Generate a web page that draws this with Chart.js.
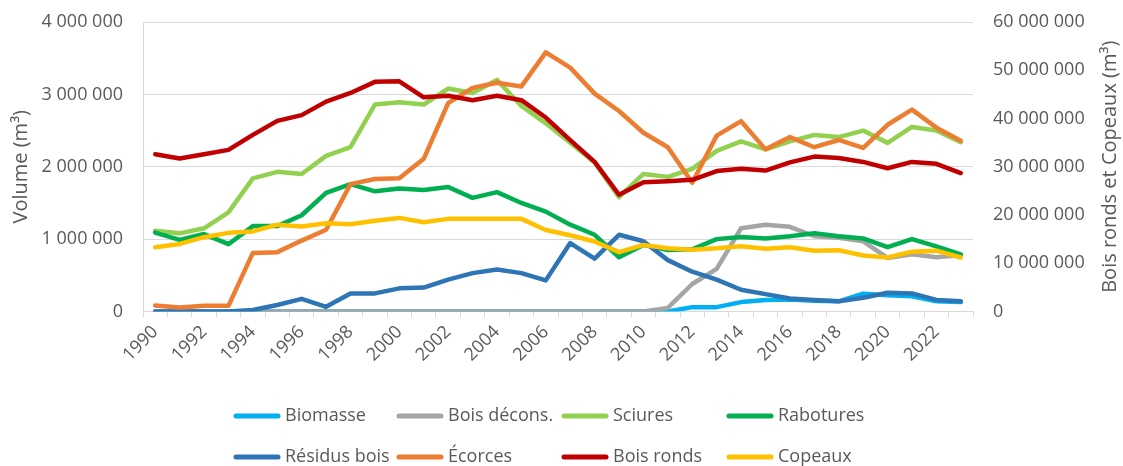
<!DOCTYPE html>
<html>
<head>
<meta charset="utf-8">
<script src="https://cdn.jsdelivr.net/npm/chart.js@4/dist/chart.umd.min.js"></script>
<style>
  body { margin: 0; background: #fff; }
</style>
</head>
<body>
<canvas id="myChart" width="1123" height="466"></canvas>
<script>
// categories
const years = ['1990','1991','1992','1993','1994','1995','1996','1997','1998','1999',
  '2000','2001','2002','2003','2004','2005','2006','2007','2008','2009',
  '2010','2011','2012','2013','2014','2015','2016','2017','2018','2019',
  '2020','2021','2022','2023'];

// left axis series (m3)
const biomasse = [0,0,0,0,0,0,0,0,0,0,
  0,0,0,0,0,0,0,0,0,0,
  0,0,60000,60000,130000,160000,165000,150000,140000,245000,
  225000,210000,140000,130000];
const boisDecons = [0,0,0,0,0,0,0,0,0,0,
  0,0,0,0,0,0,0,0,0,0,
  0,50000,380000,590000,1150000,1200000,1170000,1040000,1020000,970000,
  740000,790000,750000,780000];
const sciures = [1116000,1080000,1150000,1370000,1840000,1930000,1900000,2150000,2270000,2860000,
  2890000,2860000,3080000,3020000,3200000,2840000,2600000,2330000,2060000,1580000,
  1900000,1860000,1970000,2220000,2350000,2240000,2350000,2440000,2410000,2500000,
  2330000,2550000,2500000,2340000];
const rabotures = [1090000,990000,1070000,930000,1180000,1180000,1330000,1640000,1760000,1660000,
  1700000,1680000,1720000,1570000,1650000,1500000,1380000,1200000,1060000,750000,
  920000,850000,860000,1000000,1030000,1010000,1040000,1080000,1040000,1010000,
  890000,1000000,900000,790000];
const residusBois = [0,0,0,0,20000,90000,175000,65000,250000,250000,
  320000,330000,440000,530000,580000,530000,430000,945000,730000,1060000,
  970000,710000,550000,440000,300000,240000,180000,160000,140000,190000,
  260000,250000,160000,140000];
const ecorces = [83000,55000,78000,78000,810000,820000,980000,1130000,1760000,1830000,
  1840000,2110000,2880000,3090000,3160000,3110000,3580000,3370000,3010000,2770000,
  2470000,2270000,1780000,2430000,2630000,2240000,2410000,2270000,2370000,2260000,
  2580000,2790000,2540000,2360000];

// right axis series (m3)
const boisRonds = [32600000,31700000,32600000,33500000,36600000,39500000,40700000,43500000,45300000,47600000,
  47700000,44400000,44700000,43800000,44700000,43800000,40200000,35500000,31000000,24200000,
  26800000,27000000,27300000,29100000,29600000,29200000,30900000,32100000,31800000,31000000,
  29700000,31000000,30600000,28700000];
const copeaux = [13300000,14000000,15400000,16300000,16600000,18000000,17600000,18300000,18100000,18800000,
  19400000,18500000,19200000,19200000,19200000,19200000,16900000,15800000,14500000,12300000,
  13800000,13100000,12800000,13100000,13500000,13000000,13300000,12600000,12700000,11600000,
  11200000,12400000,12600000,11200000];

// ticks
const leftTicks = [0, 1000000, 2000000, 3000000, 4000000];
const rightTicks = [0, 10000000, 20000000, 30000000, 40000000, 50000000, 60000000];

const FONT = '"Open Sans", "Noto Sans", sans-serif';
const GREY = '#595959';
const GRID = '#d9d9d9';

function spaced(v) {
  return String(v).replace(/\B(?=(\d{3})+(?!\d))/g, ' ');
}

function line(label, data, color, axis, order) {
  return {
    label: label,
    data: data,
    yAxisID: axis,
    borderColor: color,
    backgroundColor: color,
    borderWidth: 4.5,
    pointRadius: 0,
    tension: 0,
    borderJoinStyle: 'round',
    borderCapStyle: 'round',
    fill: false,
    order: order
  };
}

// legend laid out as a 4 x 2 grid, and the right title read bottom-up, like the original
const extras = {
  id: 'extras',
  afterDraw(chart, args, opts) {
    const c = chart.ctx;
    const area = chart.chartArea;
    c.save();
    c.font = '18px ' + FONT;
    c.textBaseline = 'middle';
    chart.data.datasets.forEach((ds, i) => {
      const x = opts.cols[i % 4];
      const y = opts.rows[Math.floor(i / 4)];
      c.strokeStyle = ds.borderColor;
      c.lineWidth = 5;
      c.lineCap = 'round';
      c.beginPath();
      c.moveTo(x + 2, y);
      c.lineTo(x + 44, y);
      c.stroke();
      c.fillStyle = GREY;
      c.textAlign = 'left';
      c.fillText(ds.label, x + 51, y);
    });
    c.translate(opts.rightTitleX, (area.top + area.bottom) / 2);
    c.rotate(-Math.PI / 2);
    c.font = '20px ' + FONT;
    c.textAlign = 'center';
    c.fillStyle = GREY;
    c.fillText(opts.rightTitle, 0, 0);
    c.restore();
  }
};

// keep the tick padding from pushing the plot top down
function fitY(width) {
  return function(s) {
    s.width = width;
    s.paddingTop = 0;
    s.paddingBottom = 0;
  };
}

const ctx = document.getElementById('myChart').getContext('2d');
const myChart = new Chart(ctx, {
  type: 'line',
  data: {
    labels: years,
    datasets: [
      line('Biomasse', biomasse, '#00B0F0', 'y', 8),
      line('Bois décons.', boisDecons, '#A5A5A5', 'y', 7),
      line('Sciures', sciures, '#92D050', 'y', 6),
      line('Rabotures', rabotures, '#00B050', 'y', 5),
      line('Résidus bois', residusBois, '#2E75B6', 'y', 4),
      line('Écorces', ecorces, '#ED7D31', 'y', 3),
      line('Bois ronds', boisRonds, '#C00000', 'y2', 2),
      line('Copeaux', copeaux, '#FFC000', 'y2', 1)
    ]
  },
  options: {
    responsive: false,
    animation: false,
    layout: { padding: { top: 22, left: 0, right: 0, bottom: 0 } },
    scales: {
      x: {
        offset: true,
        grid: {
          offset: true,
          drawOnChartArea: false,
          drawTicks: true,
          tickLength: 6,
          color: GRID
        },
        border: { display: true, color: GRID },
        ticks: {
          autoSkip: false,
          minRotation: 45,
          maxRotation: 45,
          padding: 4,
          color: GREY,
          font: { family: FONT, size: 18 },
          callback: function(val, index) {
            return index % 2 === 0 ? this.getLabelForValue(val) : '';
          }
        },
        afterFit: function(s) { s.height = 154.5; }
      },
      y: {
        position: 'left',
        min: 0,
        max: 4000000,
        afterBuildTicks: function(s) { s.ticks = leftTicks.map(v => ({ value: v })); },
        grid: { color: GRID, drawTicks: false },
        border: { display: true, color: GRID },
        ticks: {
          padding: 20,
          color: GREY,
          font: { family: FONT, size: 18 },
          callback: v => spaced(v)
        },
        title: {
          display: true,
          text: 'Volume (m³)',
          color: GREY,
          font: { family: FONT, size: 20 },
          padding: { top: 9, bottom: 0 }
        },
        afterFit: fitY(143)
      },
      y2: {
        position: 'right',
        min: 0,
        max: 60000000,
        afterBuildTicks: function(s) { s.ticks = rightTicks.map(v => ({ value: v })); },
        grid: { display: false, drawTicks: false },
        border: { display: false },
        ticks: {
          padding: 20,
          color: GREY,
          font: { family: FONT, size: 18 },
          callback: v => spaced(v)
        },
        afterFit: fitY(150)
      }
    },
    plugins: {
      legend: { display: false },
      tooltip: { enabled: false },
      extras: {
        cols: [234, 397, 562, 727],
        rows: [416, 457],
        rightTitle: 'Bois ronds et Copeaux (m³)',
        rightTitleX: 1110
      }
    }
  },
  plugins: [extras]
});
</script>
</body>
</html>
